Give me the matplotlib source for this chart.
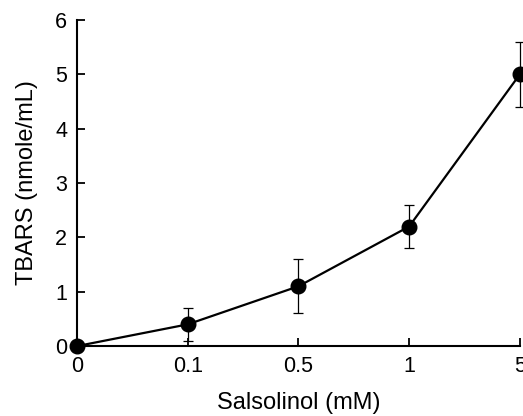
import matplotlib
matplotlib.use("Agg")
import matplotlib.pyplot as plt

categories = ["0", "0.1", "0.5", "1", "5"]
values = [0.0, 0.4, 1.1, 2.2, 5.0]
errors = [0.0, 0.3, 0.5, 0.4, 0.6]
yticks = [0, 1, 2, 3, 4, 5, 6]

plt.rcParams['font.family'] = ['Liberation Sans', 'DejaVu Sans']

fig = plt.figure(figsize=(5.23, 4.16), dpi=100)
ax = fig.add_axes([0.147, 0.168, 0.847, 0.784])
x = list(range(len(categories)))
ax.errorbar(x, values, yerr=errors, fmt='-o', color='black', ms=10.5, lw=1.6,
            elinewidth=0.9, capsize=3.5, capthick=0.9, clip_on=False, zorder=3)
ax.set_xlim(0, len(categories) - 1)
ax.set_ylim(0, 6)
ax.set_xticks(x)
ax.set_xticklabels(categories)
ax.set_yticks(yticks)
for s in ['top', 'right']:
    ax.spines[s].set_visible(False)
for s in ['left', 'bottom']:
    ax.spines[s].set_linewidth(1.5)
ax.tick_params(direction='in', length=6, width=1.3, labelsize=15.5, pad=7)
ax.set_xlabel("Salsolinol (mM)", fontsize=17, labelpad=11)
ax.set_ylabel("TBARS (nmole/mL)", fontsize=17, labelpad=12)
fig.savefig("out.png", dpi=100)
